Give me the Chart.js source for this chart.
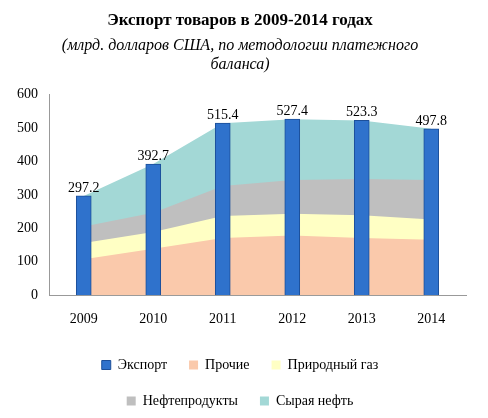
<!DOCTYPE html>
<html><head><meta charset="utf-8">
<script src="https://cdn.jsdelivr.net/npm/chart.js@4"></script>
<style>body{margin:0;background:#fff}#w{width:488px;height:418px}</style>
</head><body><div id="w"><canvas id="c"></canvas></div>
<script>
const years = ["2009","2010","2011","2012","2013","2014"];
const other = [108,139,171,179,171,166];
const gas = [48,50,66,65,68,61];
const products = [50,58,90,101,109,118];
const crude = [91,146,188,182,175,153];
const exportTotal = [297.2,392.7,515.4,527.4,523.3,497.8];

const area = (label, data, color, order) => ({
  type: "line", label, data, stack: "a", fill: true, order,
  backgroundColor: color, borderWidth: 0, pointRadius: 0, tension: 0
});

const labelPlugin = {
  id: "lbl",
  afterDatasetsDraw(chart) {
    const meta = chart.getDatasetMeta(4), ctx = chart.ctx;
    ctx.save();
    ctx.font = "14px 'Liberation Serif'";
    ctx.fillStyle = "#000"; ctx.textAlign = "center";
    meta.data.forEach((b, i) => ctx.fillText(exportTotal[i].toFixed(1), b.x, b.y - 8));
    ctx.restore();
  }
};

new Chart(document.getElementById("c"), {
  data: {
    labels: years,
    datasets: [
      area("Сырая нефть", crude, "#a3d8d6", 4),
      area("Нефтепродукты", products, "#bfbfbf", 3),
      area("Природный газ", gas, "#ffffc4", 2),
      area("Прочие", other, "#fac9ab", 1),
      { type: "bar", label: "Экспорт", data: exportTotal, stack: "b", order: 0,
        backgroundColor: "#2f72cc", borderColor: "#1c4f99", borderWidth: 1,
        barThickness: 15 }
    ]
  },
  options: {
    responsive: true, maintainAspectRatio: false, animation: false,
    layout: { padding: { left: 14, right: 22, top: 2 } },
    plugins: {
      title: { display: true, text: "Экспорт товаров в 2009-2014 годах", color: "#000",
        font: { family: "Liberation Serif", size: 17, weight: "bold" }, padding: { top: 8, bottom: 6 } },
      subtitle: { display: true, text: ["(млрд. долларов США, по методологии платежного", "баланса)"],
        color: "#000", font: { family: "Liberation Serif", size: 16, style: "italic" }, padding: { bottom: 20 } },
      legend: { position: "bottom",
        labels: { color: "#000", boxWidth: 9, boxHeight: 9, padding: 22,
          font: { family: "Liberation Serif", size: 14 } } },
      tooltip: { enabled: false }
    },
    scales: {
      x: { stacked: true, offset: true, grid: { display: false },
        border: { color: "#999" },
        ticks: { color: "#000", padding: 8, font: { family: "Liberation Serif", size: 14 } } },
      y: { stacked: true, min: 0, max: 600, grid: { display: false },
        border: { color: "#999" },
        ticks: { stepSize: 100, color: "#000", font: { family: "Liberation Serif", size: 14 } } }
    }
  },
  plugins: [labelPlugin]
});
</script></body></html>
